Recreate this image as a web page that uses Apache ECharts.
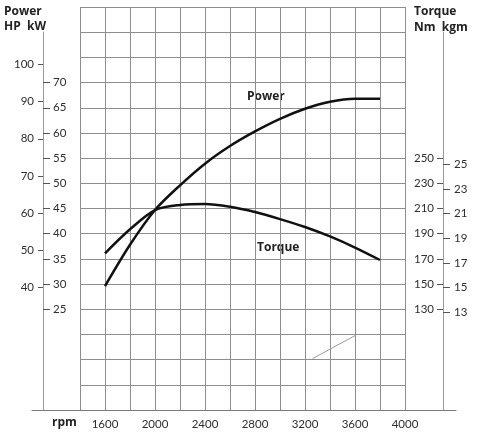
<!DOCTYPE html>
<html><head><meta charset="utf-8">
<script src="https://cdn.jsdelivr.net/npm/echarts@6/dist/echarts.min.js"></script>
<style>html,body{margin:0;padding:0;background:#fff}#c{width:490px;height:435px}</style>
</head><body><div id="c"></div>
<script>
// ---- data ----
const rpm       = [1600, 1800, 2000, 2200, 2400, 2600, 2800, 3000, 3200, 3400, 3600, 3800];
const powerKW   = [29.6, 37.8, 44.7, 49.6, 53.9, 57.4, 60.3, 62.8, 64.8, 66.2, 66.8, 66.8];
const torqueNm  = [174.4, 193.5, 208.8, 212.8, 213.6, 211.4, 207.2, 201.6, 195.3, 187.8, 179.0, 169.1];
const rpmTicks  = [1600, 2000, 2400, 2800, 3200, 3600, 4000];
const hpTicks   = [40, 50, 60, 70, 80, 90, 100];
const kwTicks   = [25, 30, 35, 40, 45, 50, 55, 60, 65, 70];
const nmTicks   = [130, 150, 170, 190, 210, 230, 250];
const kgmTicks  = [13, 15, 17, 19, 21, 23, 25];
const strayRpm  = [3260, 3610];   // faint stray pen stroke in the scan
const strayKW   = [15.2, 19.9];

// ---- unit relations ----
const KW_PER_HP = 0.7355, NM_PER_KGM = 9.80665;
const kwToNm = kw => 210 + (kw - 45) * 4;

const FONT = 'Lato';
const BOLD = 'bold 12px "Open Sans"';
const txt = {color: '#2e2e2e', fontFamily: FONT, fontSize: 11.5};
const plain = v => String(Math.round(v));
const gridLine = {show: true, lineStyle: {color: '#8e8e8e', width: 1}};
const axisGrey = {show: true, lineStyle: {color: '#9a9a9a', width: 1}};

const chart = echarts.init(document.getElementById('c'), null, {renderer: 'canvas'});
chart.setOption({
  backgroundColor: '#ffffff',
  animation: false,
  grid: [
    {left: 80, right: 85, top: 7, bottom: 25},          // plot
    {left: 43, width: 1, top: 32.19, bottom: 25},         // HP / kW scale
    {left: 443, width: 1, top: 32.19, bottom: 25},        // Nm / kgm scale
    {left: 32, right: 34, top: 7, bottom: 25}             // long base line
  ],
  xAxis: [
    {gridIndex: 0, type: 'value', min: 1400, max: 4000, interval: 200,
     axisLine: {show: false}, axisTick: {show: false}, splitLine: gridLine,
     axisLabel: Object.assign({customValues: rpmTicks, margin: 8, formatter: plain}, txt)},
    {gridIndex: 1, type: 'value', show: false},
    {gridIndex: 2, type: 'value', show: false},
    {gridIndex: 3, type: 'value', min: 0, max: 1,
     axisLine: {show: true, lineStyle: {color: '#7a7a7a', width: 1}},
     axisTick: {show: false}, axisLabel: {show: false}, splitLine: {show: false}}
  ],
  yAxis: [
    {gridIndex: 0, type: 'value', min: 5, max: 85, interval: 5,
     axisLine: {show: false}, axisTick: {show: false}, axisLabel: {show: false}, splitLine: gridLine},
    {gridIndex: 0, type: 'value', min: kwToNm(5), max: kwToNm(85), show: false},
    {gridIndex: 1, type: 'value', position: 'left',
     min: 5 / KW_PER_HP, max: 80 / KW_PER_HP,
     axisLine: axisGrey, splitLine: {show: false},
     axisTick: {show: true, length: 5, customValues: hpTicks, lineStyle: {color: '#555'}},
     axisLabel: Object.assign({customValues: hpTicks, margin: 9, formatter: plain}, txt)},
    {gridIndex: 1, type: 'value', position: 'left', min: 5, max: 80,
     axisLine: axisGrey, splitLine: {show: false},
     axisTick: {show: true, inside: true, length: 7, customValues: kwTicks, lineStyle: {color: '#555'}},
     axisLabel: Object.assign({customValues: kwTicks, inside: true, margin: 10, formatter: plain}, txt)},
    {gridIndex: 2, type: 'value', position: 'left', min: kwToNm(5), max: kwToNm(80),
     axisLine: axisGrey, splitLine: {show: false},
     axisTick: {show: true, length: 6, customValues: nmTicks, lineStyle: {color: '#555'}},
     axisLabel: Object.assign({customValues: nmTicks, margin: 9, formatter: plain}, txt)},
    {gridIndex: 2, type: 'value', position: 'left',
     min: kwToNm(5) / NM_PER_KGM, max: kwToNm(80) / NM_PER_KGM,
     axisLine: axisGrey, splitLine: {show: false},
     axisTick: {show: true, inside: true, length: 7, customValues: kgmTicks, lineStyle: {color: '#555'}},
     axisLabel: Object.assign({customValues: kgmTicks, inside: true, margin: 11, formatter: plain}, txt)},
    {gridIndex: 3, type: 'value', show: false}
  ],
  series: [
    {name: 'Power', type: 'line', xAxisIndex: 0, yAxisIndex: 0, smooth: 0.3,
     symbol: 'none', lineStyle: {color: '#111', width: 2.5},
     data: rpm.map((r, i) => [r, powerKW[i]]), z: 5},
    {name: 'Torque', type: 'line', xAxisIndex: 0, yAxisIndex: 1, smooth: 0.3,
     symbol: 'none', lineStyle: {color: '#111', width: 2.5},
     data: rpm.map((r, i) => [r, torqueNm[i]]), z: 5},
    {name: 'stray', type: 'line', xAxisIndex: 0, yAxisIndex: 0, silent: true,
     symbol: 'none', lineStyle: {color: '#9a9a9a', width: 1},
     data: strayRpm.map((r, i) => [r, strayKW[i]]), z: 3}
  ],
  graphic: [
    {type: 'text', left: 4, top: 6, style: {text: 'Power', font: BOLD, fill: '#222'}},
    {type: 'text', left: 4, top: 21, style: {text: 'HP  kW', font: BOLD, fill: '#222'}},
    {type: 'text', left: 414, top: 6, style: {text: 'Torque', font: BOLD, fill: '#222'}},
    {type: 'text', left: 414, top: 22, style: {text: 'Nm  kgm', font: BOLD, fill: '#222'}},
    {type: 'text', left: 247, top: 91, style: {text: 'Power', font: BOLD, fill: '#222'}},
    {type: 'text', left: 257, top: 242, style: {text: 'Torque', font: BOLD, fill: '#222'}},
    {type: 'text', left: 52, top: 417, style: {text: 'rpm', font: BOLD, fill: '#222'}}
  ]
});
</script></body></html>
